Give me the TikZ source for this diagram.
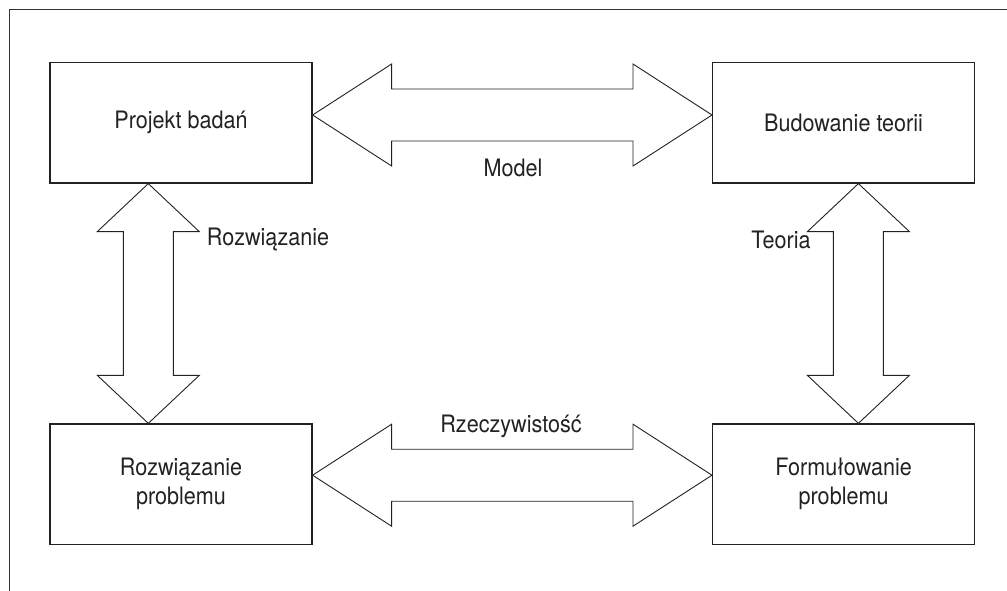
\documentclass[tikz,border=0pt]{standalone}
\usepackage{fontspec}
\setmainfont{TeX Gyre Heros}[FakeStretch=0.9]
\usetikzlibrary{calc}

\definecolor{ink}{HTML}{222222}
\definecolor{framec}{HTML}{333333}

% double-headed block arrow between two tips on one horizontal line
\newcommand\horizbig[2]{%
  \path let \p1=(#1), \p2=(#2) in [bigarrow]
    (\x1,\y1) -- (\x1+79pt,\y1+51pt) -- (\x1+79pt,\y1+26pt)
    -- (\x2-79pt,\y2+26pt) -- (\x2-79pt,\y2+51pt) -- (\x2,\y2)
    -- (\x2-79pt,\y2-51pt) -- (\x2-79pt,\y2-26pt)
    -- (\x1+79pt,\y1-26pt) -- (\x1+79pt,\y1-51pt) -- cycle;}
% double-headed block arrow between two tips on one vertical line
\newcommand\vertbig[2]{%
  \path let \p1=(#1), \p2=(#2) in [bigarrow]
    (\x1,\y1) -- (\x1+51pt,\y1-48pt) -- (\x1+25pt,\y1-48pt)
    -- (\x2+25pt,\y2+48pt) -- (\x2+51pt,\y2+48pt) -- (\x2,\y2)
    -- (\x2-51pt,\y2+48pt) -- (\x2-25pt,\y2+48pt)
    -- (\x1-25pt,\y1-48pt) -- (\x1-51pt,\y1-48pt) -- cycle;}

\begin{document}
\begin{tikzpicture}[x=1pt,y=-1pt,
  every node/.style={text=ink,font=\fontsize{24}{29}\selectfont},
  stagebox/.style={draw=ink,line width=1.2pt,minimum width=262pt,
    minimum height=120.5pt,inner sep=0pt,align=center},
  bigarrow/.style={draw=ink,line width=0.9pt,line join=miter,fill=white},
  caption/.style={inner sep=0pt}]
  \useasboundingbox (0,0) rectangle (1007,591);

  % partial outer frame
  \draw[framec,line width=1.6pt] (1007,9.5) -- (9.5,9.5) -- (9.5,591);

  % four stages
  \node[stagebox] (pb) at (181,122.75) {Projekt badań};
  \node[stagebox] (bt) at (843.6,122.75) {Budowanie teorii};
  \node[stagebox] (rp) at (181,484.2) {Rozwiązanie\\problemu};
  \node[stagebox] (fp) at (843.6,484.2) {Formułowanie\\problemu};

  % arrow tips on the box edges
  \coordinate (mA) at ([yshift=7.75pt]pb.east);
  \coordinate (mB) at ([yshift=7.75pt]bt.west);
  \coordinate (rA) at ([yshift=9pt]rp.east);
  \coordinate (rB) at ([yshift=9pt]fp.west);
  \coordinate (sA) at ([xshift=-32.7pt]pb.south);
  \coordinate (sB) at ([xshift=-32.7pt]rp.north);
  \coordinate (tA) at ([xshift=14.8pt]bt.south);
  \coordinate (tB) at ([xshift=14.8pt]fp.north);

  \horizbig{mA}{mB}
  \horizbig{rA}{rB}
  \vertbig{sA}{sB}
  \vertbig{tA}{tB}

  % arrow captions
  \node[caption] (lm) at (513,168) {Model};
  \node[caption] (lr) at (511,426) {Rzeczywistość};
  \node[caption] (ls) at (268,240) {Rozwiązanie};
  \node[caption] (lt) at (781,240) {Teoria};
\end{tikzpicture}
\end{document}
